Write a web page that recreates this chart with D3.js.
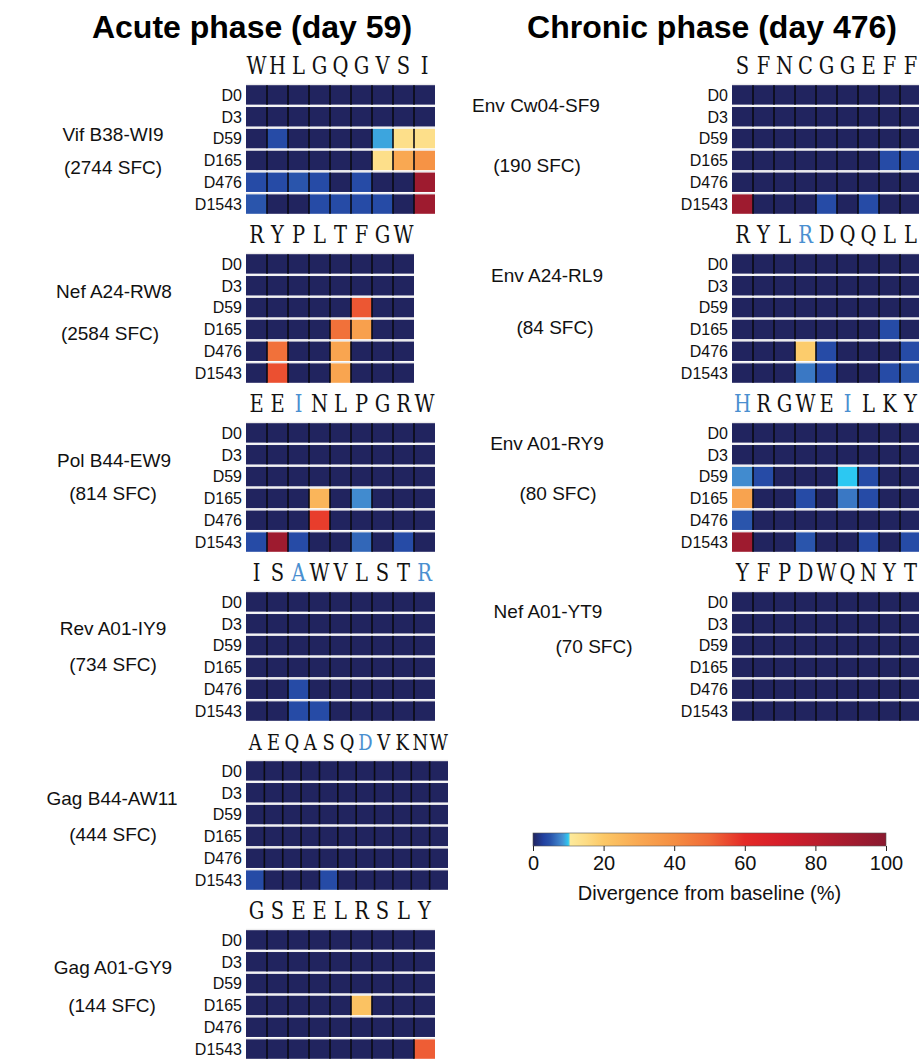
<!DOCTYPE html>
<html>
<head>
<meta charset="utf-8">
<script src="https://cdn.jsdelivr.net/npm/d3@7"></script>
<style>
  html, body { margin: 0; padding: 0; background: #fff; }
  svg { display: block; }
</style>
</head>
<body>
<svg id="chart" width="919" height="1060"></svg>
<script>
// Sampling days (rows of every heatmap)
const days = ["D0", "D3", "D59", "D165", "D476", "D1543"];

// Column headers
const phases = ["Acute phase (day 59)", "Chronic phase (day 476)"];

// Epitopes, in drawing order (first six: acute column, last four: chronic column)
const epitopes = ["Vif B38-WI9", "Nef A24-RW8", "Pol B44-EW9", "Rev A01-IY9", "Gag B44-AW11", "Gag A01-GY9",
                  "Env Cw04-SF9", "Env A24-RL9", "Env A01-RY9", "Nef A01-YT9"];
const epitopePhase = [0, 0, 0, 0, 0, 0, 1, 1, 1, 1];
const sfc = [2744, 2584, 814, 734, 444, 144, 190, 84, 80, 70];
const sequences = ["WHLGQGVSI", "RYPLTFGW", "EEINLPGRW", "ISAWVLSTR", "AEQASQDVKNW", "GSEELRSLY",
                   "SFNCGGEFF", "RYLRDQQLL", "HRGWEILKY", "YFPDWQNYT"];
// Residues that differ from the consensus (0-based position in the sequence)
const variantSites = [[], [], [2], [2, 8], [6], [], [], [3], [0, 5], []];

// Divergence from baseline (%) per day (row) and epitope position (column)
const vifWI9 = [
  [0, 0, 0, 0, 0, 0, 0, 0, 0],
  [0, 0, 0, 0, 0, 0, 0, 0, 0],
  [0, 4, 0, 0, 0, 0, 9, 14, 14],
  [0, 0, 0, 0, 0, 0, 14, 30, 38],
  [4, 4, 5, 4, 0, 4, 0, 0, 92],
  [5, 0, 0, 4, 4, 4, 4, 0, 92]
];
const nefRW8 = [
  [0, 0, 0, 0, 0, 0, 0, 0],
  [0, 0, 0, 0, 0, 0, 0, 0],
  [0, 0, 0, 0, 0, 53, 0, 0],
  [0, 0, 0, 0, 48, 33, 0, 0],
  [0, 48, 0, 0, 31, 0, 0, 0],
  [0, 54, 0, 0, 31, 0, 0, 0]
];
const polEW9 = [
  [0, 0, 0, 0, 0, 0, 0, 0, 0],
  [0, 0, 0, 0, 0, 0, 0, 0, 0],
  [0, 0, 0, 0, 0, 0, 0, 0, 0],
  [0, 0, 0, 26, 0, 8, 0, 0, 0],
  [0, 0, 0, 57, 0, 0, 0, 0, 0],
  [4, 92, 4, 0, 0, 6, 0, 4, 0]
];
const revIY9 = [
  [0, 0, 0, 0, 0, 0, 0, 0, 0],
  [0, 0, 0, 0, 0, 0, 0, 0, 0],
  [0, 0, 0, 0, 0, 0, 0, 0, 0],
  [0, 0, 0, 0, 0, 0, 0, 0, 0],
  [0, 0, 4, 0, 0, 0, 0, 0, 0],
  [0, 0, 4, 4, 0, 0, 0, 0, 0]
];
const gagAW11 = [
  [0, 0, 0, 0, 0, 0, 0, 0, 0, 0, 0],
  [0, 0, 0, 0, 0, 0, 0, 0, 0, 0, 0],
  [0, 0, 0, 0, 0, 0, 0, 0, 0, 0, 0],
  [0, 0, 0, 0, 0, 0, 0, 0, 0, 0, 0],
  [0, 0, 0, 0, 0, 0, 0, 0, 0, 0, 0],
  [4, 0, 0, 0, 4, 0, 0, 0, 0, 0, 0]
];
const gagGY9 = [
  [0, 0, 0, 0, 0, 0, 0, 0, 0],
  [0, 0, 0, 0, 0, 0, 0, 0, 0],
  [0, 0, 0, 0, 0, 0, 0, 0, 0],
  [0, 0, 0, 0, 0, 22, 0, 0, 0],
  [0, 0, 0, 0, 0, 0, 0, 0, 0],
  [0, 0, 0, 0, 0, 0, 0, 0, 52]
];
const envSF9 = [
  [0, 0, 0, 0, 0, 0, 0, 0, 0],
  [0, 0, 0, 0, 0, 0, 0, 0, 0],
  [0, 0, 0, 0, 0, 0, 0, 0, 0],
  [0, 0, 0, 0, 0, 0, 0, 4, 4],
  [0, 0, 0, 0, 0, 0, 0, 0, 0],
  [92, 0, 0, 0, 4, 0, 4, 0, 0]
];
const envRL9 = [
  [0, 0, 0, 0, 0, 0, 0, 0, 0],
  [0, 0, 0, 0, 0, 0, 0, 0, 0],
  [0, 0, 0, 0, 0, 0, 0, 0, 0],
  [0, 0, 0, 0, 0, 0, 0, 4, 0],
  [0, 0, 0, 19, 4, 0, 0, 0, 4],
  [0, 0, 0, 7, 4, 0, 0, 4, 5]
];
const envRY9 = [
  [0, 0, 0, 0, 0, 0, 0, 0, 0],
  [0, 0, 0, 0, 0, 0, 0, 0, 0],
  [8, 4, 0, 0, 0, 10, 4, 0, 0],
  [32, 0, 0, 4, 0, 7, 4, 0, 0],
  [5, 0, 0, 0, 0, 0, 0, 0, 0],
  [92, 0, 0, 5, 0, 0, 4, 0, 4]
];
const nefYT9 = [
  [0, 0, 0, 0, 0, 0, 0, 0, 0],
  [0, 0, 0, 0, 0, 0, 0, 0, 0],
  [0, 0, 0, 0, 0, 0, 0, 0, 0],
  [0, 0, 0, 0, 0, 0, 0, 0, 0],
  [0, 0, 0, 0, 0, 0, 0, 0, 0],
  [0, 0, 0, 0, 0, 0, 0, 0, 0]
];
const divergence = [vifWI9, nefRW8, polEW9, revIY9, gagAW11, gagGY9, envSF9, envRL9, envRY9, nefYT9];

// Colour bar ticks
const legendTicks = [0, 20, 40, 60, 80, 100];

// ---------------------------------------------------------------------------

const svg = d3.select("#chart");
const sansFont = "'Liberation Sans', Arial, Helvetica, sans-serif";
const seqFont = "'DejaVu Serif', serif";

// Blue shades below ~10 %, then a jump into the yellow-orange-red ramp
const colorStops = [0, 3, 5, 7, 8.5, 10, 10.6, 15, 20, 30, 40, 50, 60, 70, 85, 100];
const colorRange = ["#21245f", "#2241a0", "#2a55ac", "#3a78c4", "#4494d4", "#2cc8f2",
                    "#fde99a", "#fddc85", "#fcc866", "#f9a852", "#f58e42", "#f06a38",
                    "#e42a27", "#d61e2a", "#b01c2e", "#8a1a30"];
const color = d3.scaleLinear().domain(colorStops).range(colorRange).clamp(true);

// Layout
const columnX = [246, 732];      // left edge of the heatmaps in each column
const panelTop0 = 84;
const panelStep = 169;
const gridH = 131;
const maxGridW = 202;
const cellW = 21;
const labelSize = 19;
// Label anchors relative to each panel (x is the text centre, y is the text centre)
const labelLayout = [
  { nx: 113, ny: 50, sx: 113, sy: 83 },
  { nx: 114, ny: 38, sx: 110, sy: 80 },
  { nx: 114, ny: 38, sx: 113, sy: 71 },
  { nx: 113, ny: 37, sx: 113, sy: 73 },
  { nx: 112, ny: 38, sx: 113, sy: 74 },
  { nx: 113, ny: 38, sx: 112, sy: 76 },
  { nx: 536, ny: 21, sx: 537, sy: 81 },
  { nx: 547, ny: 22, sx: 555, sy: 74 },
  { nx: 547, ny: 21, sx: 558, sy: 71 },
  { nx: 548, ny: 20, sx: 594, sy: 55 }
];

// Column titles
const titleX = [252, 712];
svg.selectAll("text.phase")
  .data(phases)
  .join("text")
  .attr("class", "phase")
  .attr("x", (d, i) => titleX[i])
  .attr("y", 38)
  .attr("text-anchor", "middle")
  .attr("font-family", "'Liberation Sans', Arial, sans-serif")
  .attr("font-weight", "bold")
  .attr("font-size", 32)
  .attr("fill", "#000")
  .text(d => d);

const slotCount = [0, 0];
epitopes.forEach((name, p) => {
  const col = epitopePhase[p];
  const slot = slotCount[col]++;
  const top = panelTop0 + slot * panelStep;
  const seq = sequences[p];
  const n = seq.length;
  const x0 = columnX[col];
  const w = Math.min(n * cellW, maxGridW);
  const values = divergence[p];

  const x = d3.scaleBand().domain(d3.range(n)).range([x0, x0 + w]).paddingInner(0);
  const y = d3.scaleBand().domain(days).range([top, top + gridH]).paddingInner(0);

  const g = svg.append("g").attr("class", "panel");

  // cells
  const cells = [];
  values.forEach((row, r) => row.forEach((v, c) => cells.push({ day: days[r], pos: c, v })));
  g.selectAll("rect.cell")
    .data(cells)
    .join("rect")
    .attr("class", "cell")
    .attr("x", d => x(d.pos))
    .attr("y", d => y(d.day) + 1.2)
    .attr("width", x.bandwidth())
    .attr("height", y.bandwidth() - 2.4)
    .attr("fill", d => color(d.v));

  // dark column separators, drawn per row so the white row gaps stay clean
  const seps = [];
  days.forEach(day => d3.range(1, n).forEach(c => seps.push({ day, c })));
  g.selectAll("line.sep")
    .data(seps)
    .join("line")
    .attr("class", "sep")
    .attr("x1", d => x(d.c)).attr("x2", d => x(d.c))
    .attr("y1", d => y(d.day) + 1.2)
    .attr("y2", d => y(d.day) + y.bandwidth() - 1.2)
    .attr("stroke", "#0b0b14")
    .attr("stroke-width", 1.6);

  // row separators (light grey edge on the white gaps)
  g.selectAll("line.rowsep")
    .data(days)
    .join("line")
    .attr("class", "rowsep")
    .attr("x1", x0).attr("x2", x0 + w)
    .attr("y1", d => y(d) + 0.3).attr("y2", d => y(d) + 0.3)
    .attr("stroke", "#d8d8dc")
    .attr("stroke-width", 0.6);

  // day labels
  g.selectAll("text.day")
    .data(days)
    .join("text")
    .attr("class", "day")
    .attr("x", x0 - 4)
    .attr("y", d => y(d) + y.bandwidth() / 2)
    .attr("dy", "0.36em")
    .attr("text-anchor", "end")
    .attr("font-family", sansFont)
    .attr("font-size", 16)
    .attr("fill", "#111")
    .text(d => d);

  // epitope sequence, one narrowed residue over each column
  const resSize = n > 9 ? 23 : 25;
  g.selectAll("text.res")
    .data(seq.split("").map((ch, i) => ({ ch, i })))
    .join("text")
    .attr("class", "res")
    .attr("transform", d => `translate(${x(d.i) + x.bandwidth() / 2},${top - 10}) scale(0.78,1)`)
    .attr("text-anchor", "middle")
    .attr("font-family", seqFont)
    .attr("font-size", resSize)
    .attr("fill", d => variantSites[p].includes(d.i) ? "#4a8fd0" : "#111")
    .text(d => d.ch);

  // epitope name and response size
  const L = labelLayout[p];
  g.append("text")
    .attr("x", L.nx).attr("y", top + L.ny).attr("dy", "0.36em")
    .attr("text-anchor", "middle")
    .attr("font-family", sansFont).attr("font-size", labelSize).attr("fill", "#111")
    .text(name);
  g.append("text")
    .attr("x", L.sx).attr("y", top + L.sy).attr("dy", "0.36em")
    .attr("text-anchor", "middle")
    .attr("font-family", sansFont).attr("font-size", labelSize).attr("fill", "#111")
    .text(`(${sfc[p]} SFC)`);
});

// Colour bar
const cbX = d3.scaleLinear().domain([0, 100]).range([533, 886]);
const cbY = 833, cbH = 13;
const defs = svg.append("defs");
const grad = defs.append("linearGradient").attr("id", "divGrad")
  .attr("x1", "0%").attr("x2", "100%").attr("y1", "0%").attr("y2", "0%");
grad.selectAll("stop")
  .data(colorStops)
  .join("stop")
  .attr("offset", d => `${d}%`)
  .attr("stop-color", d => color(d));

svg.append("rect")
  .attr("x", cbX(0)).attr("y", cbY)
  .attr("width", cbX(100) - cbX(0)).attr("height", cbH)
  .attr("fill", "url(#divGrad)")
  .attr("stroke", "#555").attr("stroke-width", 0.6);

const axis = svg.append("g")
  .attr("transform", `translate(0,${cbY + cbH})`)
  .call(d3.axisBottom(cbX).tickValues(legendTicks).tickSize(5).tickPadding(5));
axis.select(".domain").remove();
axis.selectAll("text")
  .attr("font-family", sansFont).attr("font-size", 20).attr("fill", "#111");
axis.selectAll("line").attr("stroke", "#222");

svg.append("text")
  .attr("x", (cbX(0) + cbX(100)) / 2)
  .attr("y", 900)
  .attr("text-anchor", "middle")
  .attr("font-family", sansFont).attr("font-size", 20).attr("fill", "#111")
  .text("Divergence from baseline (%)");
</script>
</body>
</html>
